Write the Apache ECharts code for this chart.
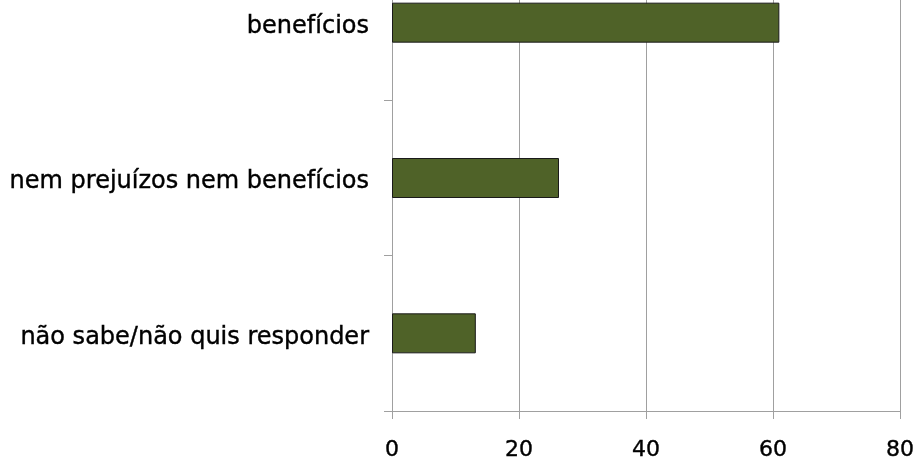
<!DOCTYPE html>
<html>
<head>
<meta charset="utf-8">
<script src="https://cdn.jsdelivr.net/npm/echarts@6/dist/echarts.min.js"></script>
<style>
html,body{margin:0;padding:0;background:#fff;}
#chart{width:918px;height:459px;}
</style>
</head>
<body>
<div id="chart"></div>
<script>
const categories = ['benefícios', 'nem prejuízos nem benefícios', 'não sabe/não quis responder'];
const values = [61.0, 26.3, 13.2];
const xTicks = [0, 20, 40, 60, 80];

const chart = echarts.init(document.getElementById('chart'), null, {renderer: 'canvas'});
chart.setOption({
  animation: false,
  backgroundColor: '#ffffff',
  grid: {left: 392, right: 18, top: -55, bottom: 48, containLabel: false, outerBoundsMode: 'none'},
  xAxis: {
    type: 'value',
    min: xTicks[0],
    max: xTicks[xTicks.length - 1],
    interval: 20,
    axisLine: {show: true, lineStyle: {color: '#a0a0a0', width: 1}},
    axisTick: {show: true, length: 8, lineStyle: {color: '#a0a0a0'}},
    splitLine: {show: true, lineStyle: {color: '#a0a0a0', width: 1}},
    axisLabel: {color: '#000', fontFamily: 'DejaVu Sans', fontSize: 22, margin: 28,
      textBorderColor: '#000', textBorderWidth: 0.4}
  },
  yAxis: {
    type: 'category',
    data: categories,
    inverse: true,
    axisLine: {show: true, lineStyle: {color: '#a0a0a0', width: 1}},
    axisTick: {show: true, length: 8, lineStyle: {color: '#a0a0a0'}},
    axisLabel: {color: '#000', fontFamily: 'DejaVu Sans', fontSize: 24, margin: 23,
      verticalAlign: 'top', lineHeight: 8, textBorderColor: '#000', textBorderWidth: 0.4}
  },
  series: [{
    type: 'bar',
    data: values,
    barWidth: 40,
    itemStyle: {color: '#4f6228', borderColor: '#1a1a1a', borderWidth: 1}
  }]
});
</script>
</body>
</html>
